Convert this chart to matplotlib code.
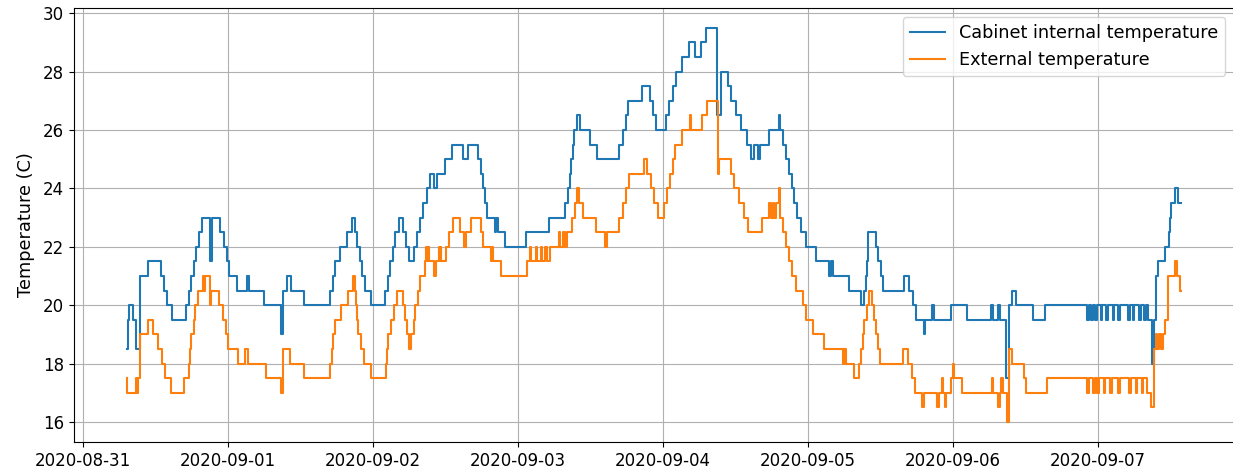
import matplotlib
matplotlib.use('Agg')
import matplotlib.pyplot as plt
import pandas as pd

# change points: (hours after 2020-08-31 00:00, temperature C)
cabinet_steps = [
    (7.3, 18.5), (7.4, 19.5), (7.6, 20.0), (8.25, 19.5), (8.8, 18.5), (9.4, 21.0),
    (10.7, 21.5), (12.8, 21.0), (13.3, 20.5), (13.9, 20.0), (14.7, 19.5), (17.0, 20.0),
    (17.5, 20.5), (17.8, 21.0), (18.3, 21.5), (18.6, 22.0), (19.2, 22.5), (19.6, 23.0),
    (21.0, 21.5), (21.3, 23.0), (22.7, 22.5), (23.3, 22.0), (23.8, 21.5), (24.2, 21.0),
    (25.5, 20.5), (27.1, 21.0), (27.4, 20.5), (30.0, 20.0), (32.8, 19.0), (33.05, 20.5),
    (33.7, 21.0), (34.4, 20.5), (36.6, 20.0), (40.9, 20.5), (41.4, 21.0), (41.7, 21.5),
    (42.5, 22.0), (43.7, 22.5), (44.5, 23.0), (45.0, 22.5), (45.4, 22.0), (45.8, 21.5),
    (46.2, 21.0), (46.7, 20.5), (47.7, 20.0), (50.0, 20.5), (50.4, 21.0), (50.8, 21.5),
    (51.3, 22.0), (51.65, 22.5), (52.3, 23.0), (52.9, 22.5), (53.5, 22.0), (53.9, 21.5),
    (54.8, 22.0), (55.2, 22.5), (55.8, 23.0), (56.3, 23.5), (56.9, 24.0), (57.4, 24.5),
    (58.0, 24.0), (58.5, 24.5), (59.9, 25.0), (61.0, 25.5), (62.9, 25.0), (63.7, 25.5),
    (65.4, 25.0), (65.8, 24.5), (66.1, 24.0), (66.5, 23.5), (66.9, 23.0), (68.2, 22.5),
    (68.4, 23.0), (68.6, 22.5), (69.9, 22.0), (73.3, 22.5), (77.1, 23.0), (79.7, 23.5),
    (80.3, 24.0), (80.5, 24.5), (80.8, 25.0), (81.0, 25.5), (81.2, 26.0), (81.8, 26.5),
    (82.2, 26.0), (83.9, 25.5), (85.0, 25.0), (88.7, 25.5), (89.3, 26.0), (89.8, 26.5),
    (90.1, 27.0), (92.5, 27.5), (93.8, 27.0), (94.3, 26.5), (94.8, 26.0), (96.5, 26.5),
    (97.0, 27.0), (97.6, 27.5), (98.1, 28.0), (99.2, 28.5), (100.3, 29.0), (101.2, 28.5),
    (102.3, 29.0), (103.1, 29.5), (104.9, 26.5), (105.5, 28.0), (106.7, 27.5), (107.3, 27.0),
    (108.1, 26.5), (108.9, 26.0), (109.8, 25.5), (110.6, 25.0), (111.0, 25.5), (111.7, 25.0),
    (112.1, 25.5), (113.6, 26.0), (115.2, 26.5), (115.4, 26.0), (115.8, 25.5), (116.3, 25.0),
    (116.9, 24.5), (117.3, 24.0), (117.7, 23.5), (118.2, 23.0), (118.8, 22.5), (119.6, 22.0),
    (121.3, 21.5), (123.5, 21.0), (123.8, 21.5), (124.1, 21.0), (126.8, 20.5), (128.7, 20.0),
    (129.3, 20.5), (129.6, 21.0), (129.75, 21.5), (129.85, 22.0), (129.95, 22.5), (131.2, 22.0),
    (131.5, 21.5), (132.0, 21.0), (132.4, 20.5), (135.9, 21.0), (136.7, 20.5), (137.3, 20.0),
    (137.8, 19.5), (139.1, 19.0), (139.4, 19.5), (140.5, 20.0), (140.8, 19.5), (143.6, 20.0),
    (146.3, 19.5), (150.3, 20.0), (150.6, 19.5), (151.4, 20.0), (151.7, 19.5), (152.8, 17.5),
    (153.2, 20.0), (153.7, 20.5), (154.4, 20.0), (157.3, 19.5), (159.2, 20.0),
    (166.2, 19.5), (166.5, 20.0), (166.8, 19.5), (167.1, 20.0), (167.5, 19.5), (167.8, 20.0),
    (168.4, 19.5), (168.7, 20.0), (169.3, 19.5), (169.6, 20.0), (170.4, 19.5), (170.7, 20.0),
    (171.3, 19.5), (171.6, 20.0), (173.0, 19.5), (173.3, 20.0), (173.7, 19.5), (174.0, 20.0),
    (174.8, 19.5), (175.1, 20.0), (175.6, 19.5), (175.9, 20.0), (176.2, 19.5), (176.9, 18.0),
    (177.3, 19.5), (177.5, 21.0), (177.9, 21.5), (179.1, 22.0), (179.7, 22.5), (179.9, 23.0),
    (180.1, 23.5), (180.7, 24.0), (181.3, 23.5), (181.8, 23.5),
]

external_steps = [
    (7.2, 17.5), (7.3, 17.0), (8.7, 17.5), (8.9, 17.0), (9.1, 17.5), (9.4, 19.0),
    (10.8, 19.5), (11.5, 19.0), (12.3, 18.5), (13.0, 18.0), (13.5, 17.5), (14.5, 17.0),
    (16.7, 17.5), (17.5, 18.0), (17.7, 18.5), (17.9, 19.0), (18.3, 19.5), (18.5, 20.0),
    (19.0, 20.5), (19.8, 21.0), (20.0, 20.5), (20.1, 21.0), (21.0, 20.0), (21.2, 20.5),
    (22.5, 20.0), (23.2, 19.5), (23.6, 19.0), (24.0, 18.5), (25.6, 18.0), (26.8, 18.5),
    (27.3, 18.0), (30.2, 17.5), (32.8, 17.0), (33.1, 18.5), (34.3, 18.0), (36.6, 17.5),
    (40.9, 18.0), (41.1, 18.5), (41.3, 19.0), (41.6, 19.5), (42.7, 20.0), (43.8, 20.5),
    (44.6, 21.0), (45.0, 20.5), (45.2, 20.0), (45.3, 19.5), (45.5, 19.0), (46.0, 18.5),
    (46.5, 18.0), (47.6, 17.5), (50.1, 18.0), (50.3, 18.5), (50.5, 19.0), (50.9, 19.5),
    (51.4, 20.0), (51.9, 20.5), (53.0, 20.0), (53.3, 19.5), (53.6, 19.0), (54.0, 18.5),
    (54.3, 19.0), (54.7, 19.5), (54.9, 20.0), (55.4, 20.5), (55.8, 21.0), (56.5, 21.5),
    (56.7, 22.0), (56.9, 21.5), (57.1, 22.0), (57.3, 21.5), (58.1, 21.0), (58.4, 21.5),
    (58.9, 22.0), (59.1, 21.5), (59.2, 22.0), (59.3, 21.5), (60.0, 22.0), (60.6, 22.5),
    (61.2, 23.0), (62.3, 22.5), (63.0, 22.0), (63.4, 22.5), (64.2, 23.0), (65.8, 22.5),
    (66.1, 22.0), (67.5, 21.5), (67.7, 22.0), (67.9, 21.5), (69.2, 21.0), (73.5, 21.5),
    (73.9, 22.0), (74.1, 21.5), (74.9, 22.0), (75.1, 21.5), (75.7, 22.0), (75.9, 21.5),
    (76.5, 22.0), (76.7, 21.5), (77.3, 22.0), (78.8, 22.5), (79.0, 22.0), (79.5, 22.5),
    (79.7, 22.0), (80.0, 22.5), (80.9, 23.0), (81.4, 23.5), (81.7, 24.0), (82.0, 23.5),
    (82.7, 23.0), (84.9, 22.5), (86.4, 22.0), (86.7, 22.5), (88.7, 23.0), (89.3, 23.5),
    (89.9, 24.0), (90.4, 24.5), (92.9, 25.0), (93.4, 24.5), (94.0, 24.0), (94.5, 23.5),
    (95.1, 23.0), (96.2, 23.5), (96.6, 24.0), (97.2, 24.5), (97.7, 25.0), (98.0, 25.5),
    (99.2, 26.0), (100.4, 26.5), (100.6, 26.0), (102.5, 26.5), (103.3, 27.0), (105.0, 24.5),
    (105.3, 25.0), (107.2, 24.5), (107.8, 24.0), (108.6, 23.5), (109.4, 23.0), (110.0, 22.5),
    (112.3, 23.0), (113.6, 23.5), (113.9, 23.0), (114.1, 23.5), (114.4, 23.0), (114.6, 23.5),
    (115.1, 24.0), (115.4, 23.0), (115.8, 22.5), (116.3, 22.0), (116.9, 21.5), (117.4, 21.0),
    (118.0, 20.5), (119.1, 20.0), (119.7, 19.5), (120.8, 19.0), (122.7, 18.5), (125.7, 18.0),
    (126.0, 18.5), (126.2, 18.0), (127.6, 17.5), (128.4, 18.0), (128.7, 18.5), (129.0, 19.0),
    (129.3, 19.5), (129.8, 20.0), (130.1, 20.5), (130.6, 20.0), (130.9, 19.5), (131.2, 19.0),
    (131.5, 18.5), (131.9, 18.0), (135.7, 18.5), (136.5, 18.0), (137.2, 17.5), (137.7, 17.0),
    (138.8, 16.5), (139.2, 17.0), (141.4, 16.5), (141.7, 17.0), (142.1, 17.5), (142.4, 17.0),
    (142.6, 16.5), (142.9, 17.0), (143.6, 17.5), (143.9, 18.0), (144.1, 17.5), (145.5, 17.0),
    (150.4, 17.5), (150.6, 17.0), (151.5, 16.5), (151.8, 17.0), (152.0, 17.5), (152.2, 17.0),
    (152.9, 16.0), (153.3, 18.5), (153.8, 18.0), (155.8, 17.5), (156.1, 17.0), (159.6, 17.5),
    (166.2, 17.0), (166.5, 17.5), (167.1, 17.0), (167.4, 17.5), (167.8, 17.0), (168.1, 17.5),
    (168.9, 17.0), (169.2, 17.5), (170.0, 17.0), (170.3, 17.5), (171.3, 17.0), (171.6, 17.5),
    (173.1, 17.0), (173.4, 17.5), (174.2, 17.0), (174.5, 17.5), (175.2, 17.0), (175.5, 17.5),
    (176.1, 17.0), (176.7, 16.5), (177.2, 18.5), (177.5, 19.0), (177.8, 18.5), (178.1, 19.0),
    (178.4, 18.5), (178.7, 19.0), (179.0, 19.5), (179.6, 21.0), (180.8, 21.5), (181.1, 21.0),
    (181.6, 20.5), (181.8, 20.5),
]

start = pd.Timestamp('2020-08-31')
cab_hours, cab_temp = zip(*cabinet_steps)
ext_hours, ext_temp = zip(*external_steps)
cab_time = start + pd.to_timedelta(list(cab_hours), unit='h')
ext_time = start + pd.to_timedelta(list(ext_hours), unit='h')

plt.rcParams['font.size'] = 12

fig = plt.figure(figsize=(12.33, 4.71), dpi=100)
ax = fig.add_axes([0.060, 0.062, 0.941, 0.921])
ax.plot(cab_time, cab_temp, drawstyle='steps-post', label='Cabinet internal temperature')
ax.plot(ext_time, ext_temp, drawstyle='steps-post', label='External temperature')
ax.set_ylabel('Temperature (C)', fontsize=12.8, labelpad=6)
ax.grid(True)
ax.legend(loc='upper right', fontsize=12.7)

fig.savefig('out.png', dpi=100)
